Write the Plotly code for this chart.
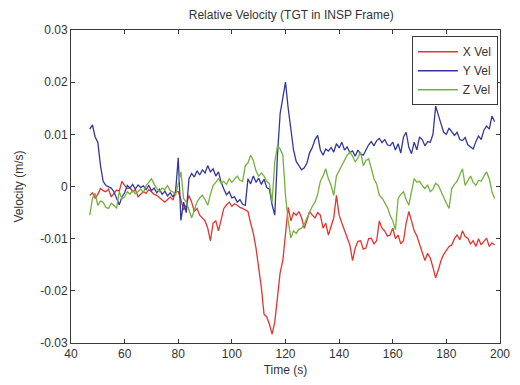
import plotly.graph_objects as go

# Relative velocity components, sampled once per second from t = 47 s (units: mm/s)
T_START = 47
X_VEL_MM = [
    -1.7, -1.2, -2.3, -1.5, -0.4, -0.8, -1.0, -0.5, -2.0, -1.4,
    -0.7, -0.9, 1.0, 0.2, -0.4, -0.2, -1.0, -0.6, -2.0, -1.5,
    -1.0, -1.3, -0.6, -1.0, -1.5, -1.7, -2.2, -2.6, -3.0, -2.4,
    -2.0, -2.6, -1.0, -1.0, -2.5, -4.5, -3.6, -1.7, -3.0, -4.8,
    -4.2, -5.5, -6.0, -6.6, -8.0, -10.4, -7.0, -6.6, -8.5, -6.0,
    -4.2, -3.5, -3.0, -3.8, -3.3, -3.6, -4.0, -4.2, -4.5, -4.8,
    -7.0, -9.0, -11.8, -15.6, -19.4, -24.5, -25.0, -26.4, -28.3, -26.0,
    -21.0, -16.5, -14.2, -9.3, -4.0, -6.6, -5.0, -5.5, -4.8, -6.0,
    -8.0, -6.5, -4.8, -5.5, -6.0, -5.0, -5.5, -8.0, -7.0, -9.3,
    -7.5, -6.0, -1.7, -5.5, -7.0, -8.5, -10.0, -11.2, -14.2, -11.8,
    -10.5, -10.4, -12.0, -11.8, -10.0, -9.9, -11.0, -10.4, -6.6, -8.0,
    -8.5, -9.5, -9.3, -8.0, -10.0, -9.3, -11.0, -10.4, -7.0, -4.8,
    -6.6, -8.5, -9.5, -11.2, -12.5, -14.2, -12.8, -13.7, -15.5, -17.5,
    -16.0, -14.2, -13.0, -12.3, -11.5, -11.2, -10.0, -9.3, -10.2, -8.5,
    -9.6, -9.9, -11.0, -10.4, -11.5, -10.0, -11.2, -10.5, -9.9, -11.5,
    -10.8, -11.2,
]
Y_VEL_MM = [
    11.0, 11.8, 9.5, 8.5, 4.0, 1.0, 0.2, 0.0, -0.3, -1.0,
    -2.3, -3.5, -2.0, -1.2, 0.2, -0.3, 0.4, -0.5, 0.3, -0.2,
    0.1, -0.6, 0.2, -0.8, -0.3, -1.2, -0.5, -1.5, -0.9, -1.8,
    -1.2, -2.0, -1.0, 5.5, -6.5, -3.0, -5.0, 1.5, 2.5, 1.8,
    3.0, 2.2, 3.2, 2.6, 4.0, 2.8, 3.4, 2.0, 2.8, 0.8,
    -0.5, -1.6, -1.0, -2.2, -2.0, -3.0, -2.5, -3.4, -3.6, 1.5,
    0.5, 2.0, 0.8, 1.6, 0.4, 1.4, -0.2, -0.5, -3.5, -5.5,
    6.0, 14.0, 17.0, 20.0, 15.0, 10.5, 7.0, 4.8, 4.0, 3.2,
    3.6, 4.5, 6.5, 7.5, 9.0, 9.8, 7.0, 6.0, 7.2, 6.8,
    7.5, 6.6, 8.2, 7.4, 8.5, 7.0, 7.6, 6.5, 6.8, 5.8,
    7.0, 6.2, 6.0, 7.0, 8.0, 8.6, 7.8, 8.8, 9.2, 8.4,
    9.0, 8.0, 7.8, 8.5, 7.0, 8.2, 6.4, 9.5, 10.4, 7.5,
    6.3, 8.5, 7.0, 9.5, 9.0, 7.8, 8.6, 8.5, 10.0, 15.4,
    13.5, 12.0, 10.4, 10.0, 11.2, 10.6, 9.8, 10.4, 9.0, 8.8,
    9.4, 8.0, 7.6, 7.2, 8.6, 9.7, 9.0, 10.8, 11.6, 11.0,
    13.5, 12.4,
]
Z_VEL_MM = [
    -5.5, -2.3, -1.3, -3.6, -2.8, -3.0, -4.0, -4.2, -3.2, -3.6,
    -4.2, -1.0, -2.4, -2.0, -1.0, -1.5, -0.7, -1.4, -1.0, -0.5,
    -1.2, 0.2, 0.8, 1.5, 0.5, -0.4, -1.0, -0.3, -0.6, 0.2,
    -0.8, -1.0, -1.7, 0.5, 2.8, -2.3, -3.0, -4.5, -6.0, -4.5,
    -3.0, -2.2, -1.7, -2.5, -3.6, -1.5, 0.2, 0.8, 1.5, 0.6,
    1.0, 0.4, 1.5, 0.8, 1.4, 2.0, 1.2, 1.0, 4.0, 4.5,
    6.0, 5.0, 3.0, 2.0, 2.6, 2.0, 1.0, 0.5, -3.0, 4.7,
    7.8, 7.2, 6.0, -1.7, -6.6, -9.9, -8.5, -9.0, -8.2, -8.0,
    -7.2, -6.0, -5.0, -3.8, -3.0, -1.5, 1.0, 2.0, 3.4, 1.5,
    0.2, -1.7, 2.0, 3.0, 4.2, 5.3, 6.0, 6.6, 5.8, 4.7,
    5.5, 6.6, 4.0, 5.0, 5.3, 3.5, 1.5, 0.5, -1.7, -2.2,
    -3.0, -4.0, -5.5, -6.6, -8.3, -2.3, -1.5, -1.0, -2.5, -3.6,
    -1.0, 1.5, 0.8, 1.0, 0.2, -0.4, 0.3, -1.0, -0.5, 0.6,
    0.2, -1.0, -2.3, -3.2, -4.2, -0.4, 0.4, 1.0, 2.2, 3.4,
    0.2, 1.0, 2.0, 0.8, 0.2, 1.2, 1.0, 2.0, 2.8, 1.5,
    -1.0, -2.3,
]

SERIES_NAMES = ["X Vel", "Y Vel", "Z Vel"]
SERIES_COLORS = ["#e5332e", "#34379a", "#74b13e"]

X_TICKS = [40, 60, 80, 100, 120, 140, 160, 180, 200]
Y_TICKS = [0.03, 0.02, 0.01, 0, -0.01, -0.02, -0.03]
Y_TICK_LABELS = ["0.03", "0.02", "0.01", "0", "-0.01", "-0.02", "-0.03"]

FONT = "Liberation Sans, Arial, sans-serif"
AXIS_COLOR = "#3a3a3a"

fig = go.Figure()
for name, color, values in zip(SERIES_NAMES, SERIES_COLORS, [X_VEL_MM, Y_VEL_MM, Z_VEL_MM]):
    t = [T_START + i for i in range(len(values))]
    fig.add_trace(go.Scatter(
        x=t, y=[v / 1000 for v in values], mode="lines", name=name,
        line=dict(color=color, width=1.3),
    ))

axis_common = dict(
    showline=True, linecolor=AXIS_COLOR, linewidth=1, mirror="ticks",
    ticks="inside", ticklen=4, tickcolor=AXIS_COLOR,
    showgrid=False, zeroline=False,
    tickfont=dict(family=FONT, size=12, color="#333333"),
)

fig.update_layout(
    width=520, height=385,
    margin=dict(l=71, r=10, t=30, b=39),
    paper_bgcolor="white", plot_bgcolor="white",
    font=dict(family=FONT, size=12, color="#333333"),
    title=dict(text="Relative Velocity (TGT in INSP Frame)", x=0.56, xanchor="center",
               y=0.962, yanchor="middle", font=dict(size=12, color="#333333")),
    xaxis=dict(range=[40, 200], tickvals=X_TICKS,
               title=dict(text="Time (s)", standoff=5, font=dict(size=12)), **axis_common),
    yaxis=dict(range=[-0.03, 0.03], tickvals=Y_TICKS, ticktext=Y_TICK_LABELS,
               title=dict(text="Velocity (m/s)", standoff=14, font=dict(size=12)), **axis_common),
    legend=dict(x=0.995, y=0.98, xanchor="right", yanchor="top",
                bgcolor="white", bordercolor=AXIS_COLOR, borderwidth=1,
                font=dict(family=FONT, size=12, color="#333333"),
                tracegroupgap=0, itemwidth=40),
    showlegend=True,
)

fig.write_html("out.html")
